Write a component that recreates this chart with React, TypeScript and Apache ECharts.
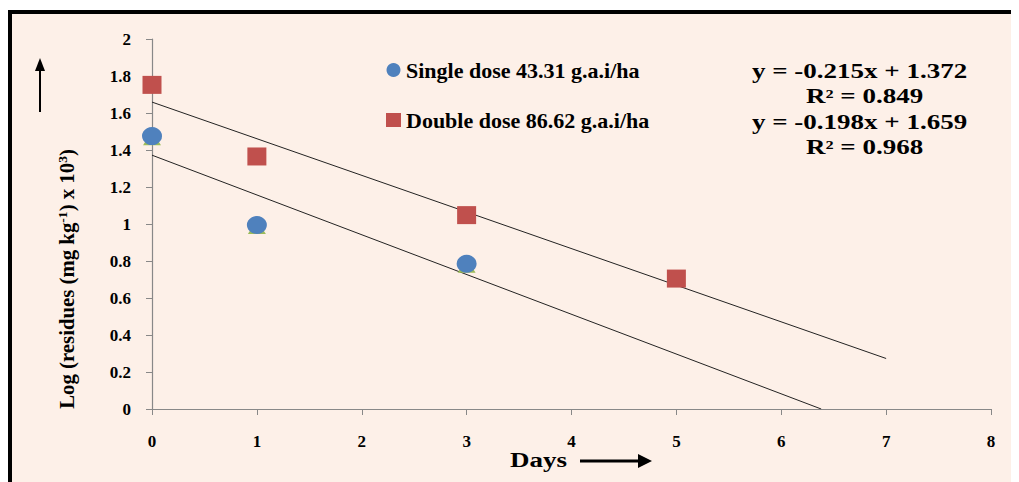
import React, { useEffect, useRef } from "react";
import * as echarts from "echarts";

const singleDays = [0, 1, 3];
const singleValues = [1.475, 0.995, 0.785];
const doubleDays = [0, 1, 3, 5];
const doubleValues = [1.752, 1.365, 1.048, 0.705];
const singleTrend = [[0, 1.372], [6.381, 0]];
const doubleTrend = [[0, 1.659], [7, 0.273]];
const yTicks = ["0", "0.2", "0.4", "0.6", "0.8", "1", "1.2", "1.4", "1.6", "1.8", "2"];
const xTicks = ["0", "1", "2", "3", "4", "5", "6", "7", "8"];
const singleName = "Single dose 43.31 g.a.i/ha";
const doubleName = "Double dose 86.62 g.a.i/ha";
const singleEq = "y = -0.215x + 1.372";
const singleR2 = "R² = 0.849";
const doubleEq = "y = -0.198x + 1.659";
const doubleR2 = "R² = 0.968";

const FONT = "'Liberation Serif', 'DejaVu Serif', serif";

export default function App() {
  const ref = useRef<HTMLDivElement>(null);
  useEffect(() => {
    const chart = echarts.init(ref.current!, null, { renderer: "svg" });
    const eqStyle = {
      fontFamily: FONT,
      fontWeight: "bold",
      fontSize: 20,
      fill: "#000",
      verticalAlign: "middle",
    };
    chart.setOption({
      animation: false,
      backgroundColor: "#FDF0E8",
      grid: { left: 140, right: 28, top: 25, bottom: 75 },
      legend: {
        orient: "vertical",
        left: 369,
        top: 40,
        itemGap: 28,
        itemWidth: 15,
        itemHeight: 14,
        data: [singleName, doubleName],
        textStyle: { fontFamily: FONT, fontWeight: "bold", fontSize: 22, color: "#000" },
      },
      xAxis: {
        type: "value",
        min: 0,
        max: 8,
        interval: 1,
        axisLine: { lineStyle: { color: "#888", width: 1.2 } },
        axisTick: { show: true, length: 6, lineStyle: { color: "#888" } },
        splitLine: { show: false },
        axisLabel: {
          margin: 24,
          fontFamily: FONT,
          fontWeight: "bold",
          fontSize: 17,
          color: "#000",
          formatter: (v: number) => xTicks[Math.round(v)],
        },
      },
      yAxis: {
        type: "value",
        min: 0,
        max: 2,
        interval: 0.2,
        axisLine: { show: true, lineStyle: { color: "#888", width: 1.2 } },
        axisTick: { show: true, length: 6, lineStyle: { color: "#888" } },
        splitLine: { show: false },
        axisLabel: {
          margin: 21,
          fontFamily: FONT,
          fontWeight: "bold",
          fontSize: 17,
          color: "#000",
          formatter: (v: number) => yTicks[Math.round(v * 5)],
        },
      },
      series: [
        {
          type: "line",
          data: singleTrend,
          symbol: "none",
          silent: true,
          lineStyle: { color: "#222", width: 1 },
          z: 1,
        },
        {
          type: "line",
          data: doubleTrend,
          symbol: "none",
          silent: true,
          lineStyle: { color: "#222", width: 1 },
          z: 1,
        },
        {
          type: "scatter",
          name: "tri",
          data: singleDays.map((d, i) => [d, singleValues[i]]),
          symbol: "triangle",
          symbolSize: [18, 14],
          symbolOffset: [0, 2],
          itemStyle: { color: "#9BBB59", opacity: 1 },
          z: 2,
        },
        {
          type: "scatter",
          name: singleName,
          data: singleDays.map((d, i) => [d, singleValues[i]]),
          symbol: "circle",
          symbolSize: [20, 18],
          itemStyle: { color: "#4F81BD", opacity: 1 },
          z: 3,
        },
        {
          type: "scatter",
          name: doubleName,
          data: doubleDays.map((d, i) => [d, doubleValues[i]]),
          symbol: "rect",
          symbolSize: [19, 18],
          itemStyle: { color: "#C0504D", opacity: 1 },
          z: 3,
        },
      ],
      graphic: [
        { type: "text", x: 740, y: 57, scaleX: 1.35, style: { ...eqStyle, text: singleEq } },
        { type: "text", x: 794, y: 82, scaleX: 1.35, style: { ...eqStyle, text: singleR2 } },
        { type: "text", x: 740, y: 108, scaleX: 1.35, style: { ...eqStyle, text: doubleEq } },
        { type: "text", x: 794, y: 133, scaleX: 1.35, style: { ...eqStyle, text: doubleR2 } },
        {
          type: "text",
          x: 55,
          y: 265,
          rotation: Math.PI / 2,
          scaleX: 1.04,
          style: {
            text: "Log (residues (mg kg{s|-1}) x 10{s|3})",
            fontFamily: FONT,
            fontWeight: "bold",
            fontSize: 20,
            fill: "#000",
            align: "center",
            verticalAlign: "middle",
            rich: {
              s: { fontFamily: FONT, fontWeight: "bold", fontSize: 13, verticalAlign: "top", padding: [0, 0, 9, 0] },
            },
          },
        },
        { type: "line", shape: { x1: 28, y1: 98, x2: 28, y2: 54 }, style: { stroke: "#000", lineWidth: 2 } },
        { type: "polygon", shape: { points: [[28, 44], [23, 57], [33, 57]] }, style: { fill: "#000" } },
        {
          type: "text",
          x: 498,
          y: 446,
          scaleX: 1.35,
          style: { text: "Days", fontFamily: FONT, fontWeight: "bold", fontSize: 20, fill: "#000", verticalAlign: "middle" },
        },
        { type: "line", shape: { x1: 568, y1: 447, x2: 628, y2: 447 }, style: { stroke: "#000", lineWidth: 3 } },
        { type: "polygon", shape: { points: [[640, 447], [626, 440], [626, 454]] }, style: { fill: "#000" } },
      ],
    });
    return () => chart.dispose();
  }, []);
  return (
    <div
      style={{
        marginTop: 2,
        width: 1007,
        height: 470,
        borderLeft: "4px solid #000",
        borderTop: "4px solid #000",
        background: "#FDF0E8",
      }}
    >
      <div ref={ref} style={{ width: 1007, height: 470 }} />
    </div>
  );
}
